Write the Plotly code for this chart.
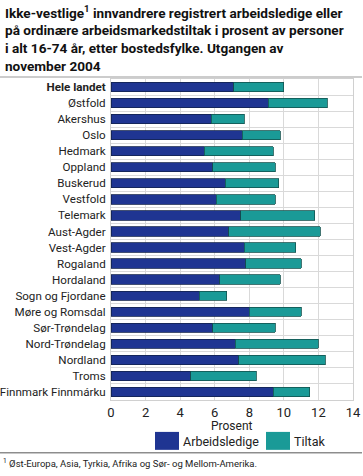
import plotly.graph_objects as go

categories = ["Hele landet", "Østfold", "Akershus", "Oslo", "Hedmark", "Oppland",
              "Buskerud", "Vestfold", "Telemark", "Aust-Agder", "Vest-Agder",
              "Rogaland", "Hordaland", "Sogn og Fjordane", "Møre og Romsdal",
              "Sør-Trøndelag", "Nord-Trøndelag", "Nordland", "Troms",
              "Finnmark Finnmárku"]
arbeidsledige = [7.1, 9.1, 5.8, 7.6, 5.4, 5.9, 6.6, 6.1, 7.5, 6.8, 7.7, 7.8, 6.3,
                 5.1, 8.0, 5.9, 7.2, 7.4, 4.6, 9.4]
tiltak = [2.9, 3.4, 1.9, 2.2, 4.0, 3.6, 3.1, 3.4, 4.3, 5.3, 3.0, 3.2, 3.5,
          1.6, 3.0, 3.6, 4.8, 5.0, 3.8, 2.1]
series_names = ["Arbeidsledige", "Tiltak"]
x_ticks = [0, 2, 4, 6, 8, 10, 12, 14]
x_title = "Prosent"

c_dark = "#1f3592"
c_teal = "#1a9a97"
font = "Roboto"

labels = ["<b>Hele landet</b>"] + categories[1:]

fig = go.Figure()
fig.add_trace(go.Bar(y=labels, x=arbeidsledige, orientation="h", name=series_names[0],
                     marker=dict(color=c_dark, line=dict(color="#13234f", width=0.8))))
fig.add_trace(go.Bar(y=labels, x=tiltak, orientation="h", name=series_names[1],
                     marker=dict(color=c_teal, line=dict(color="#13534f", width=0.8))))

fig.update_layout(
    barmode="stack",
    bargap=0.42,
    width=363, height=476,
    margin=dict(l=111, r=10, t=79, b=76, autoexpand=False),
    paper_bgcolor="white", plot_bgcolor="white",
    showlegend=False,
    font=dict(family=font, size=12, color="#222"),
    xaxis=dict(range=[0, 14], tickvals=x_ticks, showgrid=True, gridcolor="#d9d9d9",
               gridwidth=1, zeroline=False, showline=True, linecolor="#d0d0d0",
               mirror=True, ticks="", tickfont=dict(size=13, color="#222"),
               automargin=False),
    yaxis=dict(autorange="reversed", tickson="boundaries", showgrid=True,
               gridcolor="#d9d9d9", showline=True, linecolor="#d0d0d0", mirror=True,
               ticks="", ticklabelstandoff=2, automargin=False,
               tickfont=dict(size=11.6, color="#222")),
)

fig.add_annotation(text=x_title, xref="paper", yref="paper", x=0.5, y=(401 - 427.5)/322,
                   xanchor="center", yanchor="middle", showarrow=False,
                   font=dict(family=font, size=12, color="#222"))

title_lines = ["<b>Ikke-vestlige<sup>1</sup> innvandrere registrert arbeidsledige eller</b>",
               "<b>på ordinære arbeidsmarkedstiltak i prosent av personer</b>",
               "<b>i alt 16-74 år, etter bostedsfylke. Utgangen av</b>",
               "<b>november 2004</b>"]
fig.add_annotation(text="<br>".join(title_lines), xref="paper", yref="paper",
                   x=-108/242, y=1 + 78/322, xanchor="left", yanchor="top",
                   align="left", showarrow=False,
                   font=dict(family=font, size=13.6, color="#111"))

# separator lines
fig.add_shape(type="line", xref="paper", yref="paper", x0=-111/242, x1=1 + 9/242,
              y0=1 + 2/322, y1=1 + 2/322, line=dict(color="#9a9a9a", width=1.2))
fig.add_shape(type="line", xref="paper", yref="paper", x0=-111/242, x1=1 + 9/242,
              y0=-53/322, y1=-53/322, line=dict(color="#555", width=1))

# custom legend
for i, (nm, col, x0) in enumerate([(series_names[0], c_dark, 155),
                                   (series_names[1], c_teal, 266)]):
    fig.add_shape(type="rect", xref="paper", yref="paper",
                  x0=(x0 - 111)/242, x1=(x0 + 24 - 111)/242,
                  y0=(401 - 451)/322, y1=(401 - 433)/322,
                  fillcolor=col, line=dict(width=0))
    fig.add_annotation(text=nm, xref="paper", yref="paper",
                       x=(x0 + 26 - 111)/242, y=(401 - 443)/322,
                       xanchor="left", yanchor="middle", showarrow=False,
                       font=dict(family=font, size=12.5, color="#222"))

fig.add_annotation(text="<sup>1</sup> Øst-Europa, Asia, Tyrkia, Afrika og Sør- og Mellom-Amerika.",
                   xref="paper", yref="paper", x=-110/242, y=(401 - 456)/322,
                   xanchor="left", yanchor="top", showarrow=False,
                   font=dict(family=font, size=9.5, color="#222"))

fig.write_html("out.html", config={"displayModeBar": False},
               post_script="document.body.style.margin='0';document.body.style.overflow='hidden';")
